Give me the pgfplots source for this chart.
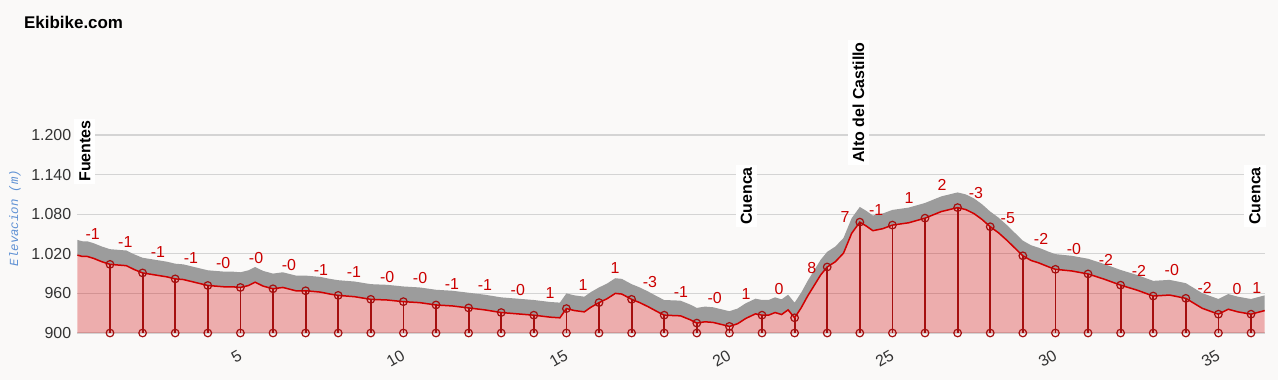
\documentclass[border=0pt]{standalone}
\usepackage{fontspec}
\setmainfont{Liberation Sans}
\newfontfamily\ymono{Liberation Mono}
\usepackage{pgfplots}
\usepackage{pgfplotstable}
\pgfplotsset{compat=1.18}
\usepgfplotslibrary{fillbetween}
\usetikzlibrary{patterns.meta}
\definecolor{bg}{RGB}{250,249,248}
\definecolor{gridc}{RGB}{212,212,212}
\definecolor{lblred}{RGB}{204,0,0}
\definecolor{linered}{RGB}{210,0,0}
\definecolor{vred}{RGB}{165,15,15}
\definecolor{bandgray}{RGB}{156,156,156}
\definecolor{ylab}{RGB}{95,145,212}
\definecolor{tickc}{RGB}{51,51,51}

\pgfplotstableread{
km e
0.00 1018
0.15 1016
0.30 1016
0.50 1013
0.75 1008
1.00 1004
1.25 1003
1.50 1002
1.75 996
2.00 991
2.25 989
2.50 987
2.75 985
3.00 982
3.25 981
3.50 978
3.75 975
4.00 972
4.25 971
4.50 970
4.75 970
5.00 969
5.25 972
5.45 977
5.70 971
6.00 967
6.30 969
6.70 964
7.00 964
7.45 962
7.75 959
8.00 957
8.50 955
9.00 951
9.50 950
10.00 947.5
10.50 946
11.00 942.5
11.50 941
12.00 938
12.50 935
13.00 931
13.50 929
14.00 927
14.50 924
14.80 923
15.00 937
15.25 934
15.55 932
15.75 939
16.00 946
16.25 952
16.50 960
16.70 959
17.00 951
17.25 946
17.50 940
17.80 932
18.00 927
18.50 926
18.80 920
19.00 915
19.25 917
19.50 916
19.75 913
20.00 910
20.25 914
20.50 922
20.80 929
21.00 927
21.20 927
21.40 931
21.60 928
21.80 935
22.00 923
22.20 938
22.40 956
22.60 972
22.80 988
23.00 1000
23.25 1008
23.50 1021
23.75 1051
24.00 1068
24.20 1062
24.40 1055
24.70 1058
25.00 1063.5
25.50 1067
26.00 1074
26.25 1079
26.50 1084
26.75 1087
27.00 1090
27.25 1087
27.50 1081
27.75 1072
28.00 1061
28.25 1052
28.50 1041
28.75 1029
29.00 1017
29.25 1010
29.50 1006
29.80 1000
30.00 996.5
30.50 994
31.00 989.5
31.50 981.5
32.00 972.5
32.50 965
33.00 956
33.50 957.5
34.00 952.5
34.50 937.5
35.00 928.5
35.30 936
35.60 932
36.00 928.5
36.42 934
}\prof

\pgfplotstableread{
km e
1 1004
2 991
3 982
4 972
5 969
6 967
7 964
8 957
9 951
10 947.5
11 942.5
12 938
13 931
14 927
15 937
16 946
17 951
18 927
19 915
20 910
21 927
22 923
23 1000
24 1068
25 1063.5
26 1074
27 1090
28 1061
29 1017
30 996.5
31 989.5
32 972.5
33 956
34 952.5
35 928.5
36 928.5
}\kms

\pgfplotstableread{
x y t
0.47 1049.5 -1
1.47 1037.4 -1
2.47 1023 -1
3.48 1013 -1
4.47 1005.6 -0
5.48 1013 -0
6.49 1003 -0
7.47 995.5 -1
8.48 993 -1
9.50 985 -0
10.51 983.8 -0
11.49 973.7 -1
12.50 972.7 -1
13.51 965 -0
14.50 960 1
15.51 972.7 1
16.49 998 1
17.56 976.8 -3
18.51 962.6 -1
19.55 953.5 -0
20.51 958.6 1
21.52 966.7 0
22.53 999 8
23.55 1076 7
24.50 1087 -1
25.51 1104 1
26.52 1124 2
27.56 1111.7 -3
28.54 1073.7 -5
29.56 1042 -2
30.57 1028 -0
31.55 1010.6 -2
32.56 994.4 -2
33.57 995.5 -0
34.58 969 -2
35.57 966.7 0
36.18 967.7 1
}\slopes

\begin{document}
\begin{tikzpicture}
\coordinate (BL) at (0bp,0bp);
\coordinate (TR) at (1278bp,380bp);
\begin{axis}[
  set layers,
  at={(77.4bp,47bp)}, anchor=south west,
  scale only axis, width=1187.3bp, height=198bp,
  xmin=0, xmax=36.42, ymin=900, ymax=1200,
  clip=false,
  axis line style={draw=none},
  major tick style={draw=none},
  minor tick style={draw=none},
  ymajorgrids, grid style={gridc, line width=1.3bp},
  ytick={900,960,1020,1080,1140,1200},
  xtick={5,10,15,20,25,30,35},
  /pgf/number format/.cd, 1000 sep={.}, assume math mode=true,
  /pgfplots/.cd,
  yticklabel style={font=\fontsize{16}{16}\selectfont, text=tickc, anchor=east, inner sep=0pt, xshift=-6bp},
  xticklabel style={font=\fontsize{16}{16}\selectfont, text=tickc, yshift=-21bp, rotate=30, anchor=east, inner sep=0pt},
]
\begin{pgfonlayer}{axis background}
\fill[bg] (BL) rectangle (TR);
\end{pgfonlayer}
\addplot[name path=top, draw=none, forget plot] table[x=km, y expr=\thisrow{e}+23] {\prof};
\addplot[name path=base, draw=none, forget plot] table[x=km, y=e] {\prof};
\addplot[name path=bot, draw=none, forget plot] table[x=km, y expr=900] {\prof};
\addplot[pattern={Lines[angle=90,distance=4bp,line width=3.1bp]}, pattern color=bandgray, draw=none] fill between[of=top and base];
\addplot[fill=linered, fill opacity=0.3, draw=none] fill between[of=base and bot];
\addplot[linered, line width=1.5bp] table[x=km, y=e] {\prof};
\addplot[only marks, mark=o, mark size=3.8bp, mark options={vred, line width=1.2bp},
  error bars/.cd, y dir=minus, y explicit, error mark=none,
  error bar style={vred, line width=1.8bp}]
  table[x=km, y=e, y error expr=\thisrow{e}-900] {\kms};
\addplot[only marks, mark=o, mark size=3.8bp, mark options={vred, line width=1.2bp}]
  table[x=km, y expr=900] {\kms};
\addplot[only marks, mark=none, nodes near coords, point meta=explicit symbolic,
  every node near coord/.append style={anchor=center, inner sep=0pt, text=lblred, font=\fontsize{16}{16}\selectfont}]
  table[x=x, y=y, meta=t] {\slopes};
\tikzset{plabel/.style={rotate=90, anchor=west, fill=white, inner xsep=2bp, inner ysep=5bp, font=\fontsize{16}{16}\selectfont\bfseries}}
\node[plabel] at (axis cs:0.23,1126) {Fuentes};
\node[plabel] at (axis cs:20.52,1060.6) {Cuenca};
\node[plabel] at (axis cs:23.96,1154.6) {Alto del Castillo};
\node[plabel] at (axis cs:36.12,1060.6) {Cuenca};
\end{axis}
\node[anchor=base west, inner sep=0pt, font=\fontsize{17}{17}\selectfont\bfseries] at (24bp,351bp) {Ekibike.com};
\node[rotate=90, inner sep=0pt, text=ylab, font=\ymono\itshape\fontsize{12.4}{12.4}\selectfont] at (15bp,162bp) {Elevacion (m)};
\end{tikzpicture}
\end{document}
